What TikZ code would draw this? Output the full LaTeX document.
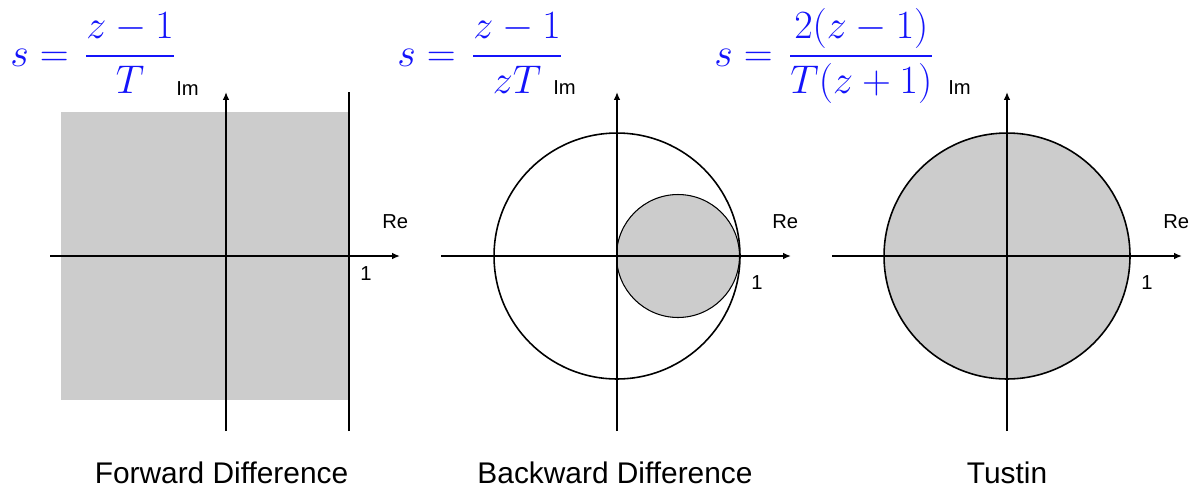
\RequirePackage{fix-cm}
\documentclass[tikz,border=0pt]{standalone}
\usepackage{amsmath}
\usepackage[no-math]{fontspec}
\setmainfont{Liberation Sans}
\usetikzlibrary{arrows.meta}
\definecolor{regiongray}{RGB}{204,204,204}
\definecolor{formblue}{RGB}{20,20,250}

\begin{document}
\begin{tikzpicture}[
        x=0.02cm, y=-0.02cm,
        axis/.style={-{Latex[length=4.5pt,width=3.8pt]}, line width=1.1pt},
        edge/.style={line width=1.1pt},
        rim/.style={draw=black, line width=0.9pt},
        region/.style={fill=regiongray},
        formula/.style={anchor=base west, inner sep=0pt, text=formblue, font=\fontsize{22.8}{27}\selectfont},
        lbl/.style={anchor=base west, inner sep=0pt, font=\fontsize{11.5}{14}\selectfont},
        caption/.style={anchor=base, inner sep=0pt, font=\fontsize{17}{20}\selectfont}
    ]
    \useasboundingbox (0,0) rectangle (1195,487);

    % forward difference
    \fill[region] (61,112) rectangle (349,400);
    \coordinate (fdW) at (50,256);
    \coordinate (fdE) at (400,256);
    \coordinate (fdS) at (226,431);
    \coordinate (fdN) at (226,92);
    \coordinate (fdA) at (349,431);
    \coordinate (fdB) at (349,92);
    \draw[edge] (fdA) -- (fdB);
    \draw[axis] (fdW) -- (fdE);
    \draw[axis] (fdS) -- (fdN);
    \node[formula] (fdeq) at (10,66) {$\displaystyle s=\mkern2mu\frac{z-1}{T}$};
    \node[lbl] (fdim) at (176,95) {Im};
    \node[lbl] (fdre) at (382,228) {Re};
    \node[lbl] (fdone) at (360,280) {1};
    \node[caption] (fdcap) at (221.5,483) {Forward Difference};

    % backward difference
    \coordinate (bdO) at (617,256);
    \draw[rim] (bdO) circle[radius=2.46cm];
    \draw[rim, region, line width=0.6pt] (678,256) circle[radius=1.23cm];
    \coordinate (bdW) at (441,256);
    \coordinate (bdE) at (791,256);
    \coordinate (bdS) at (617,431);
    \coordinate (bdN) at (617,92);
    \draw[axis] (bdW) -- (bdE);
    \draw[axis] (bdS) -- (bdN);
    \node[formula] (bdeq) at (397,66) {$\displaystyle s=\mkern2mu\frac{z-1}{zT}$};
    \node[lbl] (bdim) at (553,94) {Im};
    \node[lbl] (bdre) at (772,228) {Re};
    \node[lbl] (bdone) at (751,289) {1};
    \node[caption] (bdcap) at (615,483) {Backward Difference};

    % tustin
    \coordinate (tuO) at (1007,256);
    \draw[rim, region] (tuO) circle[radius=2.46cm];
    \coordinate (tuW) at (832,256);
    \coordinate (tuE) at (1182,256);
    \coordinate (tuS) at (1007,431);
    \coordinate (tuN) at (1007,92);
    \draw[axis] (tuW) -- (tuE);
    \draw[axis] (tuS) -- (tuN);
    \node[formula] (tueq) at (714,66) {$\displaystyle s=\mkern2mu\frac{2(z-1)}{T(z+1)}$};
    \node[lbl] (tuim) at (948,94) {Im};
    \node[lbl] (ture) at (1163,228) {Re};
    \node[lbl] (tuone) at (1141,289) {1};
    \node[caption] (tucap) at (1007,483) {Tustin};
\end{tikzpicture}
\end{document}
